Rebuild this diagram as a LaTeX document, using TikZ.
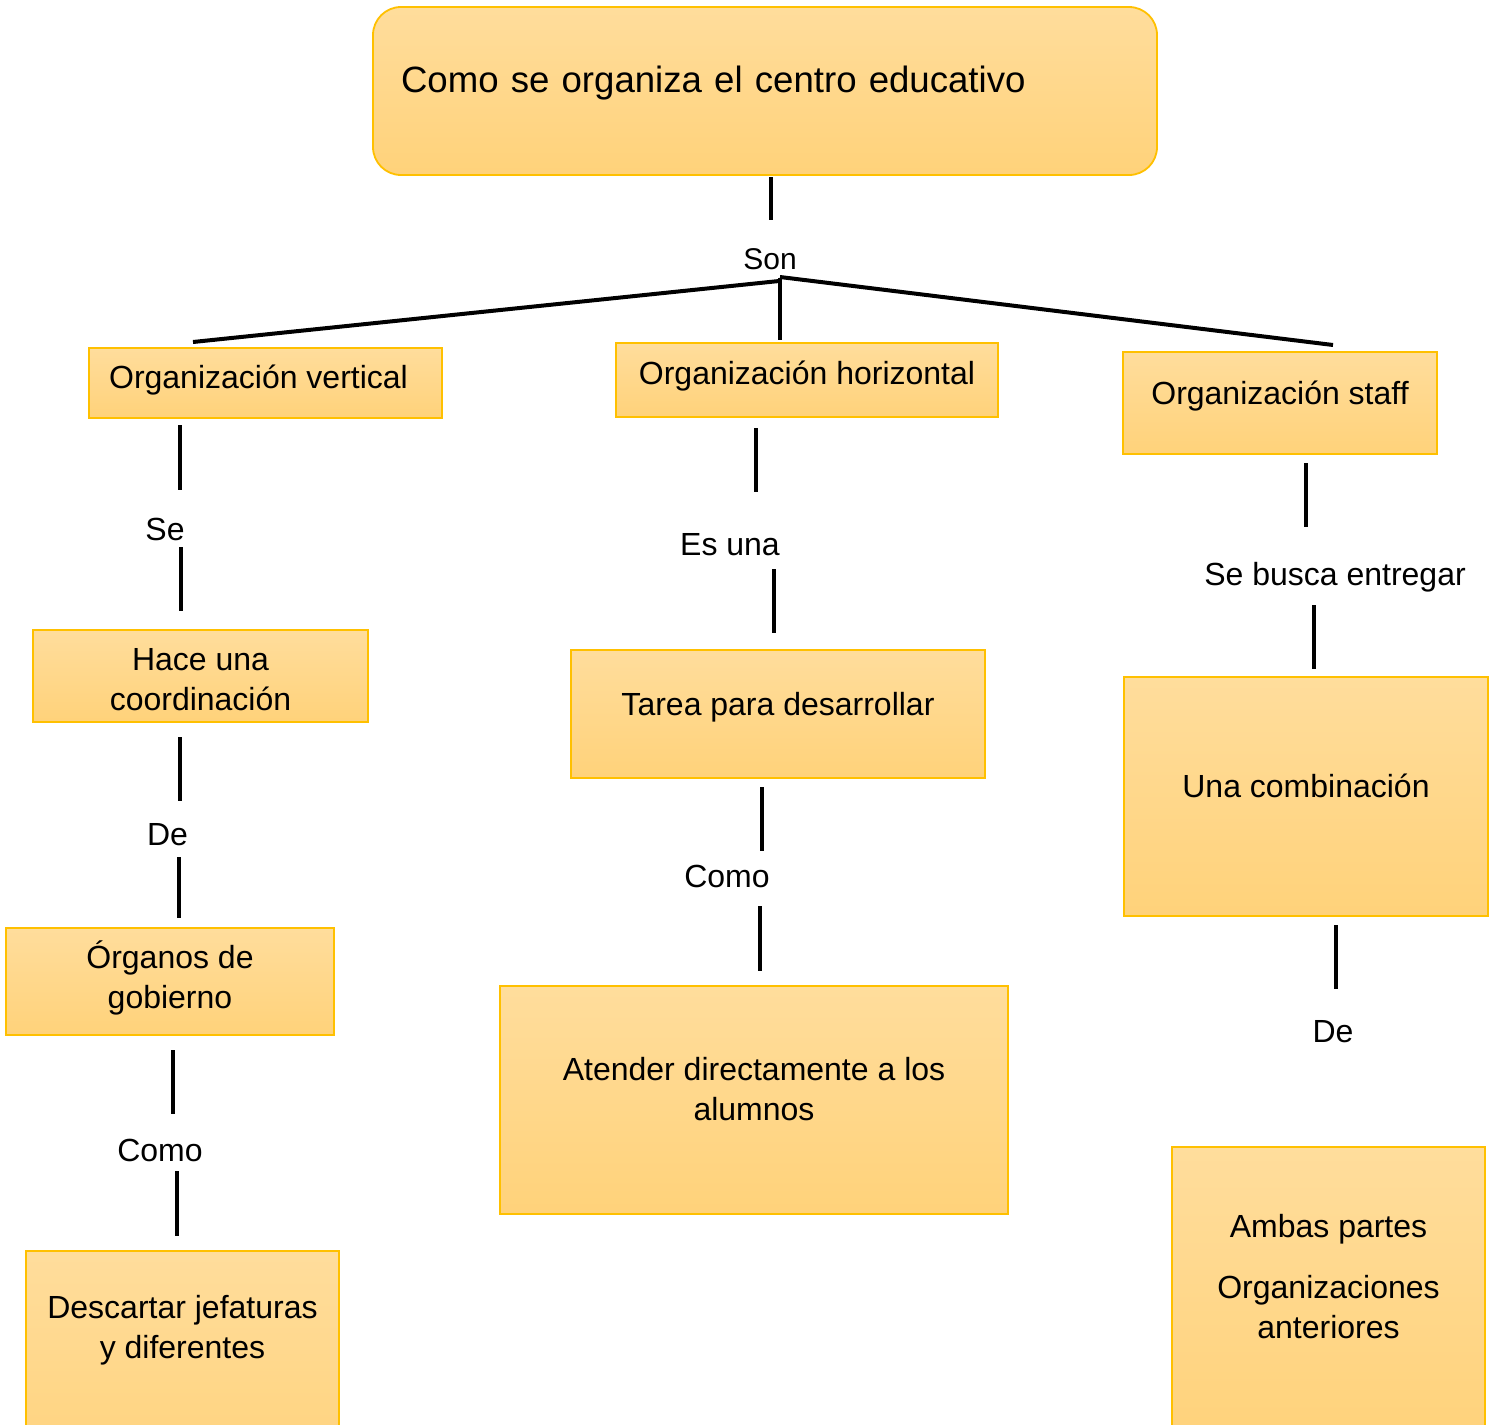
\documentclass[tikz,border=0pt]{standalone}
\usepackage{fontspec}
\setmainfont{Liberation Sans}
\definecolor{boxtop}{RGB}{255,221,156}
\definecolor{boxbot}{RGB}{255,210,122}
\definecolor{boxline}{RGB}{255,192,0}
\newcommand{\lowpad}[1]{\rule[-#1]{0pt}{0pt}}
\newcommand{\toppad}[1]{\rule{0pt}{#1}}
\tikzset{
  box/.style={draw=boxline, line width=0.9pt, top color=boxtop, bottom color=boxbot,
    inner sep=0pt, align=center, font=\fontsize{16}{20}\selectfont},
  lnk/.style={line width=2pt, black},
  lbl/.style={font=\fontsize{16}{20}\selectfont, inner sep=0pt, text height=11.5pt, text depth=0pt},
}
\begin{document}
\begin{tikzpicture}[x=0.5pt,y=-0.5pt]
\useasboundingbox (0,0) rectangle (1497,1424);
\clip (0,0) rectangle (1497,1424);
\fill[white] (0,0) rectangle (1497,1424);

% boxes
\node[box, rounded corners=14pt, minimum width=392pt, minimum height=84pt,
  text width=364pt, inner xsep=14pt, align=left, font=\fontsize{18.3}{22}\selectfont]
  (title) at (765,91) {Como se organiza el centro educativo\lowpad{11.6pt}};

\node[box, minimum width=176.5pt, minimum height=35pt] (vert) at (265.5,383)
  {Organización vertical\hspace*{7pt}\lowpad{6.2pt}};
\node[box, minimum width=191pt, minimum height=37pt] (hori) at (807,380)
  {Organización horizontal\lowpad{7.2pt}};
\node[box, minimum width=157pt, minimum height=51pt] (staff) at (1280,403)
  {Organización staff\lowpad{10.2pt}};

\node[box, minimum width=167.5pt, minimum height=46pt] (hace) at (200.5,676)
  {\toppad{14.5pt}Hace una\\coordinación};
\node[box, minimum width=164pt, minimum height=53.5pt] (organos) at (170,981.5)
  {Órganos de\\gobierno\lowpad{6.9pt}};
\node[box, minimum width=156.5pt, minimum height=120pt] (desc) at (182.5,1371)
  {Descartar jefaturas\\y diferentes\lowpad{43.7pt}};

\node[box, minimum width=207pt, minimum height=64pt] (tarea) at (778,714)
  {Tarea para desarrollar\lowpad{10.2pt}};
\node[box, minimum width=254pt, minimum height=114pt] (atender) at (754,1100)
  {Atender directamente a los\\alumnos\lowpad{11pt}};

\node[box, minimum width=182pt, minimum height=119.5pt] (combi) at (1306,796.5)
  {Una combinación\lowpad{10.5pt}};
\node[box, minimum width=156.5pt, minimum height=150pt] (ambas) at (1328.5,1297)
  {Ambas partes\\[10.5pt]Organizaciones\\anteriores\lowpad{21pt}};

% labels
\node[lbl, font=\fontsize{15}{18}\selectfont, text height=10.8pt] (son) at (770,259) {Son};
\node[lbl] (se) at (165,529) {Se};
\node[lbl] (de1) at (167.5,834) {De};
\node[lbl] (como1) at (160,1150) {Como};
\node[lbl] (esuna) at (730,544) {Es una};
\node[lbl] (como2) at (727,876) {Como};
\node[lbl] (sebusca) at (1335,574) {Se busca entregar};
\node[lbl] (de2) at (1333,1031) {De};

% connector end points
\coordinate (t0a) at (771,177); \coordinate (t0b) at (771,220);
\coordinate (jl) at (779,281); \coordinate (jr) at (780,277); \coordinate (jm) at (780,278);
\coordinate (lL) at (193,342); \coordinate (lR) at (1333,345); \coordinate (lM) at (780,340);
\coordinate (v1a) at (180,425); \coordinate (v1b) at (180,490);
\coordinate (v2a) at (181,547); \coordinate (v2b) at (181,611);
\coordinate (v3a) at (180,737); \coordinate (v3b) at (180,801);
\coordinate (v4a) at (179,857); \coordinate (v4b) at (179,918);
\coordinate (v5a) at (173,1050); \coordinate (v5b) at (173,1114);
\coordinate (v6a) at (177,1171); \coordinate (v6b) at (177,1236);
\coordinate (m1a) at (756,428); \coordinate (m1b) at (756,492);
\coordinate (m2a) at (774,569); \coordinate (m2b) at (774,633);
\coordinate (m3a) at (762,787); \coordinate (m3b) at (762,851);
\coordinate (m4a) at (760,906); \coordinate (m4b) at (760,971);
\coordinate (r1a) at (1306,463); \coordinate (r1b) at (1306,527);
\coordinate (r2a) at (1314,605); \coordinate (r2b) at (1314,669);
\coordinate (r3a) at (1336,925); \coordinate (r3b) at (1336,989);

% connectors
\draw[lnk] (t0a) -- (t0b);
\draw[lnk] (lL) -- (jl);
\draw[lnk] (jr) -- (lR);
\draw[lnk] (jm) -- (lM);
\draw[lnk] (v1a) -- (v1b);
\draw[lnk] (v2a) -- (v2b);
\draw[lnk] (v3a) -- (v3b);
\draw[lnk] (v4a) -- (v4b);
\draw[lnk] (v5a) -- (v5b);
\draw[lnk] (v6a) -- (v6b);
\draw[lnk] (m1a) -- (m1b);
\draw[lnk] (m2a) -- (m2b);
\draw[lnk] (m3a) -- (m3b);
\draw[lnk] (m4a) -- (m4b);
\draw[lnk] (r1a) -- (r1b);
\draw[lnk] (r2a) -- (r2b);
\draw[lnk] (r3a) -- (r3b);
\end{tikzpicture}
\end{document}
